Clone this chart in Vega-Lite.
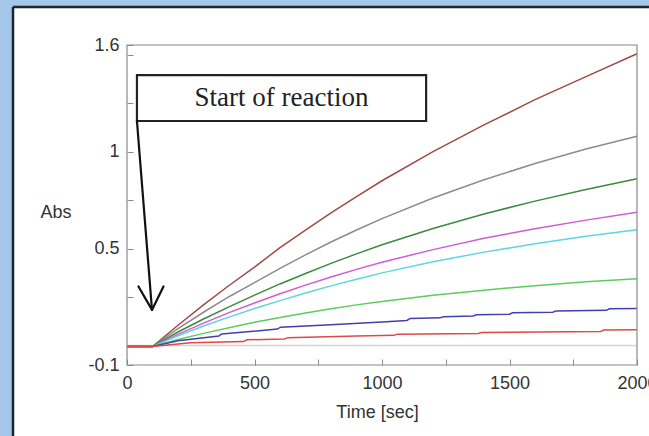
{
  "$schema": "https://vega.github.io/schema/vega-lite/v6.json",
  "width": 510,
  "height": 320,
  "autosize": {"type": "none"},
  "padding": {"left": 127, "top": 45, "right": 12, "bottom": 71},
  "background": "white",
  "config": {"view": {"stroke": null}},
  "datasets": {
    "curves": [
      {"s": "0", "t": 0, "a": 0.0}, {"s": "0", "t": 2000, "a": 0.0},
      {"s": "1", "t": 0, "a": -0.005}, {"s": "1", "t": 100, "a": -0.005}, {"s": "1", "t": 200, "a": 0.105}, {"s": "1", "t": 300, "a": 0.21}, {"s": "1", "t": 400, "a": 0.31}, {"s": "1", "t": 500, "a": 0.405}, {"s": "1", "t": 600, "a": 0.505}, {"s": "1", "t": 700, "a": 0.595}, {"s": "1", "t": 800, "a": 0.685}, {"s": "1", "t": 900, "a": 0.768}, {"s": "1", "t": 1000, "a": 0.85}, {"s": "1", "t": 1200, "a": 1.0}, {"s": "1", "t": 1400, "a": 1.138}, {"s": "1", "t": 1600, "a": 1.268}, {"s": "1", "t": 1800, "a": 1.387}, {"s": "1", "t": 2000, "a": 1.505},
      {"s": "2", "t": 0, "a": -0.005}, {"s": "2", "t": 100, "a": -0.005}, {"s": "2", "t": 200, "a": 0.088}, {"s": "2", "t": 300, "a": 0.172}, {"s": "2", "t": 400, "a": 0.252}, {"s": "2", "t": 500, "a": 0.325}, {"s": "2", "t": 600, "a": 0.398}, {"s": "2", "t": 700, "a": 0.468}, {"s": "2", "t": 800, "a": 0.534}, {"s": "2", "t": 900, "a": 0.596}, {"s": "2", "t": 1000, "a": 0.655}, {"s": "2", "t": 1200, "a": 0.761}, {"s": "2", "t": 1400, "a": 0.855}, {"s": "2", "t": 1600, "a": 0.939}, {"s": "2", "t": 1800, "a": 1.014}, {"s": "2", "t": 2000, "a": 1.08},
      {"s": "3", "t": 0, "a": -0.005}, {"s": "3", "t": 100, "a": -0.005}, {"s": "3", "t": 200, "a": 0.07}, {"s": "3", "t": 300, "a": 0.137}, {"s": "3", "t": 400, "a": 0.2}, {"s": "3", "t": 500, "a": 0.26}, {"s": "3", "t": 600, "a": 0.318}, {"s": "3", "t": 700, "a": 0.372}, {"s": "3", "t": 800, "a": 0.424}, {"s": "3", "t": 900, "a": 0.473}, {"s": "3", "t": 1000, "a": 0.52}, {"s": "3", "t": 1200, "a": 0.604}, {"s": "3", "t": 1400, "a": 0.679}, {"s": "3", "t": 1600, "a": 0.745}, {"s": "3", "t": 1800, "a": 0.805}, {"s": "3", "t": 2000, "a": 0.86},
      {"s": "4", "t": 0, "a": -0.005}, {"s": "4", "t": 100, "a": -0.005}, {"s": "4", "t": 200, "a": 0.058}, {"s": "4", "t": 300, "a": 0.116}, {"s": "4", "t": 400, "a": 0.17}, {"s": "4", "t": 500, "a": 0.22}, {"s": "4", "t": 600, "a": 0.267}, {"s": "4", "t": 700, "a": 0.312}, {"s": "4", "t": 800, "a": 0.354}, {"s": "4", "t": 900, "a": 0.393}, {"s": "4", "t": 1000, "a": 0.43}, {"s": "4", "t": 1200, "a": 0.495}, {"s": "4", "t": 1400, "a": 0.553}, {"s": "4", "t": 1600, "a": 0.603}, {"s": "4", "t": 1800, "a": 0.647}, {"s": "4", "t": 2000, "a": 0.688},
      {"s": "5", "t": 0, "a": -0.005}, {"s": "5", "t": 100, "a": -0.005}, {"s": "5", "t": 200, "a": 0.05}, {"s": "5", "t": 300, "a": 0.101}, {"s": "5", "t": 400, "a": 0.147}, {"s": "5", "t": 500, "a": 0.191}, {"s": "5", "t": 600, "a": 0.232}, {"s": "5", "t": 700, "a": 0.271}, {"s": "5", "t": 800, "a": 0.308}, {"s": "5", "t": 900, "a": 0.342}, {"s": "5", "t": 1000, "a": 0.375}, {"s": "5", "t": 1200, "a": 0.432}, {"s": "5", "t": 1400, "a": 0.482}, {"s": "5", "t": 1600, "a": 0.525}, {"s": "5", "t": 1800, "a": 0.564}, {"s": "5", "t": 2000, "a": 0.597},
      {"s": "6", "t": 0, "a": -0.005}, {"s": "6", "t": 100, "a": -0.005}, {"s": "6", "t": 200, "a": 0.031}, {"s": "6", "t": 300, "a": 0.063}, {"s": "6", "t": 400, "a": 0.092}, {"s": "6", "t": 500, "a": 0.12}, {"s": "6", "t": 600, "a": 0.145}, {"s": "6", "t": 700, "a": 0.168}, {"s": "6", "t": 800, "a": 0.19}, {"s": "6", "t": 900, "a": 0.21}, {"s": "6", "t": 1000, "a": 0.228}, {"s": "6", "t": 1200, "a": 0.26}, {"s": "6", "t": 1400, "a": 0.286}, {"s": "6", "t": 1600, "a": 0.309}, {"s": "6", "t": 1800, "a": 0.329}, {"s": "6", "t": 2000, "a": 0.345},
      {"s": "7", "t": 0, "a": -0.005}, {"s": "7", "t": 100, "a": -0.005}, {"s": "7", "t": 200, "a": 0.025}, {"s": "7", "t": 360, "a": 0.05}, {"s": "7", "t": 372, "a": 0.06}, {"s": "7", "t": 590, "a": 0.085}, {"s": "7", "t": 602, "a": 0.095}, {"s": "7", "t": 800, "a": 0.108}, {"s": "7", "t": 1000, "a": 0.122}, {"s": "7", "t": 1098, "a": 0.13}, {"s": "7", "t": 1110, "a": 0.14}, {"s": "7", "t": 1228, "a": 0.143}, {"s": "7", "t": 1240, "a": 0.149}, {"s": "7", "t": 1358, "a": 0.153}, {"s": "7", "t": 1370, "a": 0.159}, {"s": "7", "t": 1500, "a": 0.162}, {"s": "7", "t": 1512, "a": 0.169}, {"s": "7", "t": 1670, "a": 0.172}, {"s": "7", "t": 1682, "a": 0.179}, {"s": "7", "t": 1880, "a": 0.182}, {"s": "7", "t": 1892, "a": 0.19}, {"s": "7", "t": 2000, "a": 0.191},
      {"s": "8", "t": 0, "a": -0.005}, {"s": "8", "t": 100, "a": -0.005}, {"s": "8", "t": 250, "a": 0.015}, {"s": "8", "t": 458, "a": 0.021}, {"s": "8", "t": 470, "a": 0.03}, {"s": "8", "t": 618, "a": 0.034}, {"s": "8", "t": 630, "a": 0.041}, {"s": "8", "t": 900, "a": 0.049}, {"s": "8", "t": 1048, "a": 0.053}, {"s": "8", "t": 1060, "a": 0.059}, {"s": "8", "t": 1378, "a": 0.063}, {"s": "8", "t": 1390, "a": 0.068}, {"s": "8", "t": 1858, "a": 0.073}, {"s": "8", "t": 1870, "a": 0.08}, {"s": "8", "t": 2000, "a": 0.082}
    ],
    "arrow": [
      {"ax": 39, "ay": 1.158, "bx": 98, "by": 0.184},
      {"ax": 45, "ay": 0.305, "bx": 98, "by": 0.184},
      {"ax": 143, "ay": 0.305, "bx": 98, "by": 0.184}
    ],
    "note": [
      {"label": "Start of reaction", "x1": 39, "x2": 1173, "y1": 1.395, "y2": 1.158, "xm": 606, "ym": 1.277}
    ],
    "one": [{}]
  },
  "layer": [
    {
      "data": {"name": "one"},
      "mark": {"type": "rect", "fill": "#a5c7ea", "stroke": null},
      "encoding": {
        "x": {"datum": -498, "type": "quantitative", "scale": {"domain": [0, 2000], "nice": false, "zero": false}},
        "x2": {"datum": -447},
        "y": {"datum": 1.782, "type": "quantitative", "scale": {"domain": [-0.1, 1.55], "nice": false, "zero": false}},
        "y2": {"datum": -0.466}
      }
    },
    {
      "data": {"name": "one"},
      "mark": {"type": "rect", "fill": "#a5c7ea", "stroke": null},
      "encoding": {
        "x": {"datum": -498, "type": "quantitative"},
        "x2": {"datum": 2047},
        "y": {"datum": 1.782, "type": "quantitative"},
        "y2": {"datum": 1.746}
      }
    },
    {
      "data": {"name": "one"},
      "mark": {"type": "rule", "color": "#1b2632", "strokeWidth": 2.5},
      "encoding": {
        "x": {"datum": -447, "type": "quantitative"},
        "y": {"datum": 1.746, "type": "quantitative"},
        "y2": {"datum": -0.466}
      }
    },
    {
      "data": {"name": "one"},
      "mark": {"type": "rule", "color": "#1b2632", "strokeWidth": 2.5},
      "encoding": {
        "x": {"datum": -447, "type": "quantitative"},
        "x2": {"datum": 2047},
        "y": {"datum": 1.746, "type": "quantitative"}
      }
    },
    {
      "data": {"name": "curves"},
      "mark": {"type": "line", "strokeWidth": 1.5, "interpolate": "linear"},
      "encoding": {
        "x": {
          "field": "t", "type": "quantitative",
          "scale": {"domain": [0, 2000], "nice": false, "zero": false},
          "axis": {
            "title": "Time [sec]",
            "values": [0, 250, 500, 750, 1000, 1250, 1500, 1750, 2000],
            "labelExpr": "datum.value % 500 == 0 ? format(datum.value, 'd') : ''",
            "labelOverlap": false, "labelFlush": false,
            "domain": false, "grid": false,
            "tickSize": -6, "tickColor": "#8a8a8a", "tickWidth": 1,
            "labelPadding": 15,
            "labelFont": "Liberation Sans", "labelFontSize": 18, "labelColor": "#333333",
            "titleFont": "Liberation Sans", "titleFontSize": 18, "titleFontWeight": "normal", "titleColor": "#333333",
            "titleX": 250, "titleY": 47, "titleAlign": "center", "titleBaseline": "middle",
            "zindex": 1
          }
        },
        "y": {
          "field": "a", "type": "quantitative",
          "scale": {"domain": [-0.1, 1.55], "nice": false, "zero": false},
          "axis": {
            "title": "Abs",
            "values": [-0.1, 0.25, 0.5, 0.75, 1, 1.25, 1.5, 1.55],
            "labelExpr": "datum.value < 0 ? '-0.1' : datum.value > 1.52 ? '1.6' : datum.value == 1 ? '1' : datum.value == 0.5 ? '0.5' : ''",
            "labelOverlap": false, "labelFlush": false,
            "domain": false, "grid": false,
            "tickSize": -6, "tickColor": "#8a8a8a", "tickWidth": 1,
            "labelPadding": 14,
            "labelFont": "Liberation Sans", "labelFontSize": 18, "labelColor": "#333333",
            "titleFont": "Liberation Sans", "titleFontSize": 18, "titleFontWeight": "normal", "titleColor": "#333333",
            "titleAngle": 0, "titleX": -87, "titleY": 167, "titleAlign": "left", "titleBaseline": "middle",
            "zindex": 1
          }
        },
        "color": {
          "field": "s", "type": "nominal", "legend": null,
          "scale": {
            "domain": ["0", "1", "2", "3", "4", "5", "6", "7", "8"],
            "range": ["#d4d4d4", "#a04a46", "#8c8c8c", "#3c8a3c", "#d45ad4", "#5cd6e0", "#5ccc5c", "#4040b0", "#e04848"]
          }
        }
      }
    },
    {
      "data": {"name": "one"},
      "mark": {"type": "rect", "fill": "transparent", "stroke": "#8a8a8a", "strokeWidth": 1.2},
      "encoding": {
        "x": {"datum": 0, "type": "quantitative"},
        "x2": {"datum": 2000},
        "y": {"datum": 1.55, "type": "quantitative"},
        "y2": {"datum": -0.1}
      }
    },
    {
      "data": {"name": "note"},
      "mark": {"type": "rect", "fill": "white", "stroke": "#222222", "strokeWidth": 2.2},
      "encoding": {
        "x": {"field": "x1", "type": "quantitative"},
        "x2": {"field": "x2"},
        "y": {"field": "y1", "type": "quantitative"},
        "y2": {"field": "y2"}
      }
    },
    {
      "data": {"name": "note"},
      "mark": {"type": "text", "font": "Liberation Serif", "fontSize": 27, "color": "#222222", "baseline": "middle", "align": "center"},
      "encoding": {
        "x": {"field": "xm", "type": "quantitative"},
        "y": {"field": "ym", "type": "quantitative"},
        "text": {"field": "label"}
      }
    },
    {
      "data": {"name": "arrow"},
      "mark": {"type": "rule", "color": "#111111", "strokeWidth": 2.2, "strokeCap": "round"},
      "encoding": {
        "x": {"field": "ax", "type": "quantitative"},
        "y": {"field": "ay", "type": "quantitative"},
        "x2": {"field": "bx"},
        "y2": {"field": "by"}
      }
    }
  ]
}
